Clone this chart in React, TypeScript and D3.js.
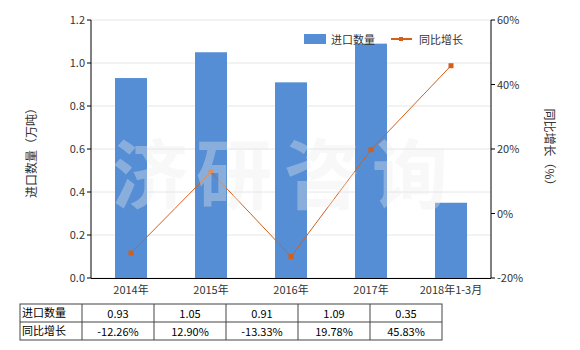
import React from "react";
import * as d3 from "d3";

const categories = ["2014年", "2015年", "2016年", "2017年", "2018年1-3月"];
const importQty = [0.93, 1.05, 0.91, 1.09, 0.35];
const growth = [-12.26, 12.9, -13.33, 19.78, 45.83];
const qtyLabels = ["0.93", "1.05", "0.91", "1.09", "0.35"];
const growthLabels = ["-12.26%", "12.90%", "-13.33%", "19.78%", "45.83%"];
const leftTicks = [0, 0.2, 0.4, 0.6, 0.8, 1.0, 1.2];
const rightTicks = [-20, 0, 20, 40, 60];
const seriesNames = ["进口数量", "同比增长"];
const watermark = ["济", "研", "咨", "询"];

const BAR = "#558ED5";
const LINE = "#D2601A";
const FONT = "'Noto Sans CJK SC', 'Noto Sans', sans-serif";

export default function App() {
  const W = 580, H = 350;
  const L = 91, R = 491, T = 20, B = 278;
  const x = d3.scaleBand().domain(categories).range([L, R]).paddingInner(0.6).paddingOuter(0.3);
  const xc = (c: string) => (x(c) as number) + x.bandwidth() / 2;
  const yL = d3.scaleLinear().domain([0, 1.2]).range([B, T]);
  const yR = d3.scaleLinear().domain([-20, 60]).range([B, T]);
  const line = d3.line<number>().x((_, i) => xc(categories[i])).y((d) => yR(d));

  // table
  const tL = 20, tFirst = 82, colW = 72, rowY = [304, 322, 340];
  const colX = d3.range(categories.length + 1).map((i) => tFirst + i * colW);
  const wmX = [150, 234, 322, 410];

  return (
    <svg width={W} height={H} style={{ position: "absolute", left: 0, top: 0 }} fontFamily={FONT}>
      <rect width={W} height={H} fill="#fff" />
      {/* gridlines */}
      {leftTicks.map((t) => (
        <line key={t} x1={L} x2={R} y1={yL(t)} y2={yL(t)} stroke="#e6e6e6" />
      ))}
      {/* bars */}
      {importQty.map((v, i) => (
        <rect key={i} x={x(categories[i])} y={yL(v)} width={x.bandwidth()} height={B - yL(v)} fill={BAR} />
      ))}
      {/* line */}
      <path d={line(growth) || ""} fill="none" stroke={LINE} strokeWidth={1} />
      {growth.map((g, i) => (
        <rect key={i} x={xc(categories[i]) - 2.5} y={yR(g) - 2.5} width={5} height={5} fill={LINE} />
      ))}
      {/* watermark */}
      {watermark.map((ch, i) => (
        <text key={i} x={wmX[i]} y={203} textAnchor="middle" fontSize={76} fontWeight="bold" fill="#eaeaea" fillOpacity={0.35}>{ch}</text>
      ))}
      {/* axes */}
      <line x1={L} x2={L} y1={T} y2={B} stroke="#000" />
      <line x1={R} x2={R} y1={T} y2={B} stroke="#000" />
      <line x1={L} x2={R} y1={B + 0.5} y2={B + 0.5} stroke="#000" />
      {leftTicks.map((t) => (
        <g key={t}>
          <line x1={L - 4} x2={L} y1={yL(t)} y2={yL(t)} stroke="#000" />
          <text x={L - 6} y={yL(t) + 4} textAnchor="end" fontSize={11} fill="#333">{t.toFixed(1)}</text>
        </g>
      ))}
      {rightTicks.map((t) => (
        <g key={t}>
          <line x1={R} x2={R + 4} y1={yR(t)} y2={yR(t)} stroke="#000" />
          <text x={R + 6} y={yR(t) + 4} textAnchor="start" fontSize={11} fill="#333">{t}%</text>
        </g>
      ))}
      {categories.map((c) => (
        <text key={c} x={xc(c)} y={294} textAnchor="middle" fontSize={11} fill="#333">{c}</text>
      ))}
      <text transform={`translate(36,150) rotate(-90)`} textAnchor="middle" fontSize={12} fill="#333">进口数量（万吨）</text>
      <text transform={`translate(545,150) rotate(90)`} textAnchor="middle" fontSize={12} fill="#333">同比增长（%）</text>
      {/* legend */}
      <rect x={304} y={34} width={22} height={10} fill={BAR} />
      <text x={331} y={43.5} fontSize={11} fill="#333">{seriesNames[0]}</text>
      <line x1={391} x2={412} y1={39} y2={39} stroke={LINE} strokeWidth={2} />
      <rect x={399} y={37} width={4} height={4} fill={LINE} />
      <text x={419} y={43.5} fontSize={11} fill="#333">{seriesNames[1]}</text>
      {/* table */}
      <g stroke="#444" strokeWidth={1} fill="none">
        <rect x={tL} y={rowY[0]} width={colX[colX.length - 1] - tL} height={rowY[2] - rowY[0]} />
        <line x1={tL} x2={colX[colX.length - 1]} y1={rowY[1]} y2={rowY[1]} />
        {colX.slice(0, -1).map((cx) => (
          <line key={cx} x1={cx} x2={cx} y1={rowY[0]} y2={rowY[2]} />
        ))}
      </g>
      <text x={tL + 2} y={317} fontSize={11} fill="#000">{seriesNames[0]}</text>
      <text x={tL + 2} y={335} fontSize={11} fill="#000">{seriesNames[1]}</text>
      {qtyLabels.map((s, i) => (
        <text key={i} x={colX[i] + colW / 2} y={318} textAnchor="middle" fontSize={11} fill="#000">{s}</text>
      ))}
      {growthLabels.map((s, i) => (
        <text key={i} x={colX[i] + colW / 2} y={336} textAnchor="middle" fontSize={11} fill="#000">{s}</text>
      ))}
    </svg>
  );
}
